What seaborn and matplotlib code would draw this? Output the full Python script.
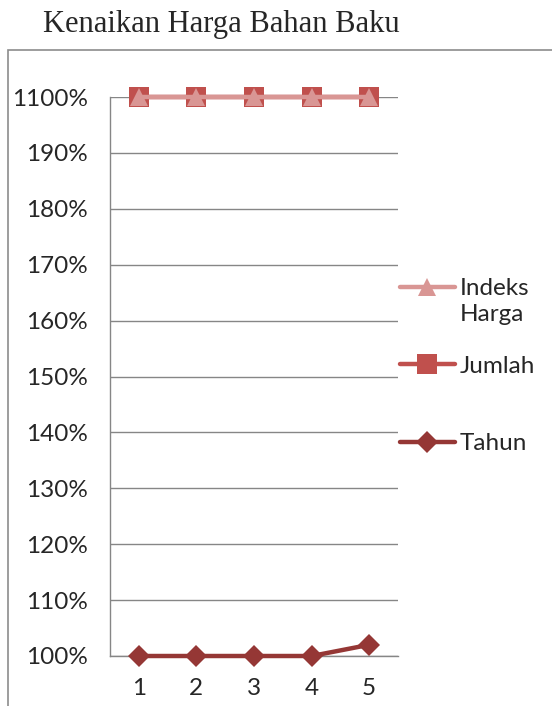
import pandas as pd
import seaborn as sns
import matplotlib
matplotlib.use("Agg")
from matplotlib import pyplot as plt
from matplotlib.lines import Line2D
from matplotlib.patches import Rectangle

# data
periods = [1, 2, 3, 4, 5]
tahun = [1.00, 1.00, 1.00, 1.00, 1.02]
jumlah = [2.00, 2.00, 2.00, 2.00, 2.00]
indeks_harga = [2.00, 2.00, 2.00, 2.00, 2.00]
y_ticks = [1.0, 1.1, 1.2, 1.3, 1.4, 1.5, 1.6, 1.7, 1.8, 1.9, 2.0]
y_labels = ["100%", "110%", "120%", "130%", "140%", "150%",
            "160%", "170%", "180%", "190%", "1100%"]

df = pd.DataFrame({
    "Periode": periods * 3,
    "Nilai": tahun + jumlah + indeks_harga,
    "Seri": ["Tahun"] * 5 + ["Jumlah"] * 5 + ["Indeks Harga"] * 5,
})

sns.set_style("white")
plt.rcParams["font.family"] = ["Lato", "DejaVu Sans"]

colors = {"Tahun": "#953735", "Jumlah": "#C0504D", "Indeks Harga": "#D99694"}
markers = {"Tahun": "D", "Jumlah": "s", "Indeks Harga": "^"}
msizes = {"Tahun": 11, "Jumlah": 14, "Indeks Harga": 13}

fig = plt.figure(figsize=(5.52, 7.06), dpi=100)
ax = fig.add_axes([110 / 552, 1 - 656 / 706, (398 - 110) / 552, (656 - 97) / 706])

# outer chart frame
fig.patches.append(Rectangle((8 / 552, -0.05), 1.0, 1 - 50 / 706 + 0.05,
                             transform=fig.transFigure, fill=False,
                             edgecolor="#8c8c8c", lw=1.2))

fig.text(221 / 552, 1 - 32 / 706, "Kenaikan Harga Bahan Baku",
         family="Liberation Serif", fontsize=22, ha="center", va="baseline")

sns.lineplot(data=df, x="Periode", y="Nilai", hue="Seri", style="Seri",
             palette=colors, markers=markers, dashes=False, lw=3.2,
             markersize=11, markeredgewidth=0, ax=ax, legend=False, zorder=3)
for line in ax.lines:
    line.set_clip_on(False)
    name = [k for k, c in colors.items()
            if matplotlib.colors.same_color(line.get_color(), c)]
    if name:
        line.set_markersize(msizes[name[0]])

ax.set_xlim(0.5, 5.5)
ax.set_ylim(1.0, 2.0)
ax.set_xticks(periods)
ax.set_xticklabels([str(p) for p in periods])
ax.set_xticks([0.5, 1.5, 2.5, 3.5, 4.5, 5.5], minor=True)
ax.tick_params(axis="x", which="major", length=0, pad=16, labelsize=17.5)
ax.tick_params(axis="x", which="minor", length=6, color="#868686", width=1)
ax.set_yticks(y_ticks)
ax.set_yticklabels(y_labels)
ax.tick_params(axis="y", length=6, color="#868686", width=1, labelsize=17.5, pad=10)
ax.yaxis.grid(True, color="#868686", lw=1)
ax.set_axisbelow(True)
ax.set_xlabel("")
ax.set_ylabel("")
for side in ["top", "right"]:
    ax.spines[side].set_visible(False)
for side in ["left", "bottom"]:
    ax.spines[side].set_color("#868686")
    ax.spines[side].set_linewidth(1)

# legend in Excel order; blank rows keep the wrapped Excel spacing
blank = Line2D([], [], color="none")
handles, labels = [], []
for name, lab in [("Indeks Harga", "Indeks"), (None, "Harga"), (None, ""),
                  ("Jumlah", "Jumlah"), (None, ""), (None, ""), ("Tahun", "Tahun")]:
    if name is None:
        handles.append(blank)
    else:
        handles.append(Line2D([], [], color=colors[name], marker=markers[name],
                              lw=3.2, markersize=msizes[name], markeredgewidth=0))
    labels.append(lab)
ax.legend(handles=handles, labels=labels, loc="upper left",
          bbox_to_anchor=(400 / 552, 1 - 278 / 706), bbox_transform=fig.transFigure,
          frameon=False, fontsize=17.5, handlelength=2.26, handletextpad=0.2,
          labelspacing=0.2, borderaxespad=0, borderpad=0)

fig.savefig("out.png", dpi=100)
